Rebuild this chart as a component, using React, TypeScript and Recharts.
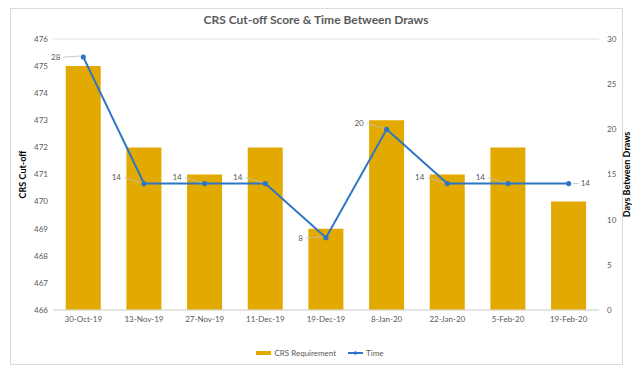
import React from 'react';
import { ComposedChart, Bar, Line, XAxis, YAxis, CartesianGrid, Legend, LabelList } from 'recharts';

const categories = ['30-Oct-19', '13-Nov-19', '27-Nov-19', '11-Dec-19', '19-Dec-19', '8-Jan-20', '22-Jan-20', '5-Feb-20', '19-Feb-20'];
const crsRequirement = [475, 472, 471, 472, 469, 473, 471, 472, 470];
const timeDays = [28, 14, 14, 14, 8, 20, 14, 14, 14];
const leftTicks = [466, 467, 468, 469, 470, 471, 472, 473, 474, 475, 476];
const rightTicks = [0, 5, 10, 15, 20, 25, 30];

const data = categories.map((c, i) => ({ date: c, crs: crsRequirement[i], time: timeDays[i] }));

const FONT = 'Lato, "Open Sans", sans-serif';
const BAR_COLOR = '#E2AA00';
const LINE_COLOR = '#2E75C6';
const TEXT_COLOR = '#595959';

const TimeLabel = (props: any) => {
  const { x, y, value, index } = props;
  const last = index === categories.length - 1;
  if (last) {
    return (
      <g>
        <line x1={x + 4} y1={y} x2={x + 10} y2={y} stroke="#bfbfbf" strokeWidth={0.8} />
        <text x={x + 12} y={y} dy="0.35em" fontSize={8} fill={TEXT_COLOR} fontFamily={FONT} textAnchor="start">{value}</text>
      </g>
    );
  }
  const up = value === 14 || value === 20;
  const ty = up ? y - 6 : y;
  return (
    <g>
      <line x1={x - 20} y1={ty} x2={x - 3} y2={y - 1} stroke="#bfbfbf" strokeWidth={0.8} />
      <text x={x - 23} y={ty} dy="0.35em" fontSize={8} fill={TEXT_COLOR} fontFamily={FONT} textAnchor="end">{value}</text>
    </g>
  );
};

const LegendContent = () => (
  <div style={{ display: 'flex', justifyContent: 'center', alignItems: 'center', fontFamily: FONT, fontSize: 8, color: TEXT_COLOR }}>
    <svg width={16} height={6} style={{ marginRight: 2 }}>
      <rect x={0} y={1} width={15} height={4} fill={BAR_COLOR} />
    </svg>
    <span style={{ marginRight: 12 }}>CRS Requirement</span>
    <svg width={16} height={6} style={{ marginRight: 2 }}>
      <line x1={0} y1={3} x2={15} y2={3} stroke={LINE_COLOR} strokeWidth={2} />
      <circle cx={7.5} cy={3} r={1.8} fill={LINE_COLOR} />
    </svg>
    <span>Time</span>
  </div>
);

export default function App() {
  return (
    <div style={{ position: 'absolute', left: 0, top: 0, width: 632, height: 384, background: '#fff' }}>
      <div style={{ position: 'absolute', left: 10, top: 8, width: 611, height: 355, border: '1px solid #d9d9d9' }} />
      <div style={{ position: 'absolute', left: 0, top: 12, width: 632, textAlign: 'center', fontFamily: FONT, fontWeight: 700, fontSize: 12, color: TEXT_COLOR }}>
        CRS Cut-off Score &amp; Time Between Draws
      </div>
      <div style={{ position: 'absolute', left: 0, top: 0 }}>
        <ComposedChart width={632} height={384} data={data} margin={{ top: 39, right: 5, bottom: 26, left: 13 }} barCategoryGap="21%">
          <CartesianGrid vertical={false} stroke="#e3e3e3" strokeWidth={1} />
          <XAxis
            dataKey="date"
            tick={{ fontSize: 8, fill: TEXT_COLOR, fontFamily: FONT }}
            tickLine={false}
            axisLine={{ stroke: '#d9d9d9' }}
            tickSize={0}
            tickMargin={6}
            height={38}
            interval={0}
          />
          <YAxis
            yAxisId="left"
            orientation="left"
            domain={[466, 476]}
            ticks={leftTicks}
            allowDataOverflow
            width={40}
            tick={{ fontSize: 8, fill: TEXT_COLOR, fontFamily: FONT }}
            tickLine={false}
            axisLine={false}
            tickSize={0}
            tickMargin={5}
            label={{ value: 'CRS Cut-off', angle: -90, position: 'insideLeft', offset: 10, style: { fontSize: 9, fontWeight: 700, fill: '#000', fontFamily: FONT, textAnchor: 'middle' } }}
          />
          <YAxis
            yAxisId="right"
            orientation="right"
            domain={[0, 30]}
            ticks={rightTicks}
            width={28}
            tick={{ fontSize: 8, fill: TEXT_COLOR, fontFamily: FONT }}
            tickLine={false}
            axisLine={false}
            tickSize={6}
            tickMargin={2}
            label={{ value: 'Days Between Draws', angle: -90, position: 'insideRight', offset: 0, style: { fontSize: 9, fontWeight: 700, fill: '#000', fontFamily: FONT, textAnchor: 'middle' } }}
          />
          <Legend verticalAlign="bottom" content={<LegendContent />} wrapperStyle={{ bottom: 26 }} />
          <Bar yAxisId="left" dataKey="crs" name="CRS Requirement" fill={BAR_COLOR} isAnimationActive={false} />
          <Line
            yAxisId="right"
            dataKey="time"
            name="Time"
            type="linear"
            stroke={LINE_COLOR}
            strokeWidth={2}
            dot={{ r: 1.6, fill: LINE_COLOR, stroke: LINE_COLOR }}
            isAnimationActive={false}
          >
            <LabelList dataKey="time" content={<TimeLabel />} />
          </Line>
        </ComposedChart>
      </div>
    </div>
  );
}
